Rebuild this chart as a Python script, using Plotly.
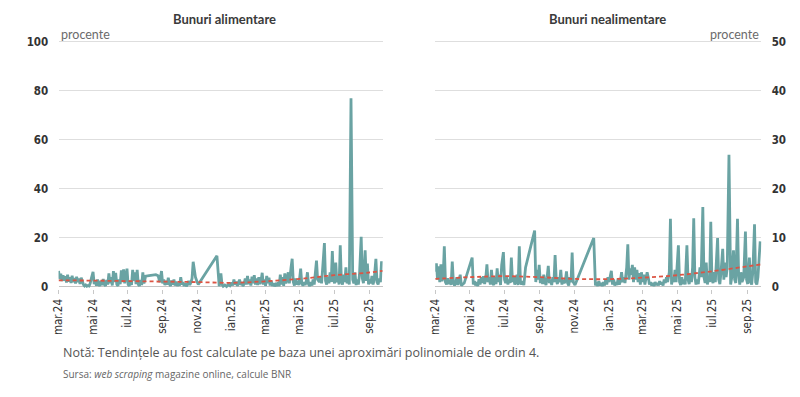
import pandas as pd
import plotly.graph_objects as go

START = pd.Timestamp("2024-03-01")

# ---- Bunuri alimentare (day offset from 1 Mar 2024, percent) ----
alim_days = [0, 2, 4, 6, 8, 10, 12, 14, 16, 18, 20, 22, 24, 26, 28, 30, 32, 34, 36, 38, 40, 42, 44, 46, 48, 50,
             52, 54, 56, 58, 61, 63, 65, 67, 69, 71, 73, 75, 77, 79, 81, 83, 85, 87, 89, 91, 93, 95, 97, 99, 101,
             103, 105, 107, 109, 111, 113, 115, 117, 119, 121, 123, 125, 127, 129, 131, 133, 135, 137, 139, 141,
             143, 145, 147, 149, 151, 154, 160, 166, 172, 176, 179, 182, 184, 186, 188, 190, 192, 194, 196, 198,
             200, 202, 204, 206, 208, 210, 212, 214, 216, 218, 220, 222, 224, 226, 228, 230, 232, 234, 236, 238,
             240, 242, 245, 247, 280, 284, 287, 289, 291, 294, 297, 300, 303, 306, 308, 310, 312, 314, 316, 318,
             320, 322, 324, 326, 328, 330, 332, 334, 336, 338, 340, 342, 344, 346, 348, 350, 352, 354, 356, 358,
             360, 362, 364, 366, 368, 370, 372, 374, 376, 378, 380, 382, 384, 386, 388, 390, 392, 394, 396, 398,
             400, 402, 404, 406, 408, 411, 413, 415, 417, 419, 421, 423, 425, 428, 430, 432, 434, 436, 438, 440,
             442, 444, 446, 448, 450, 452, 454, 456, 458, 461, 463, 465, 467, 470, 472, 474, 476, 478, 480, 482,
             484, 486, 488, 490, 492, 494, 496, 498, 500, 502, 504, 506, 508, 510, 512, 514, 517, 520, 522, 524,
             526, 528, 530, 532, 535, 537, 539, 542, 544, 546, 548, 550, 552, 554, 556, 558, 561, 563, 565, 567,
             569, 571]
alim_vals = [6.5, 3.2, 5.4, 2.4, 4.8, 2.6, 4.4, 1.8, 5.0, 2.2, 4.0, 1.6, 4.6, 2.0, 3.6, 1.4, 4.2, 2.0, 3.4, 1.2,
             3.8, 2.0, 1.0, 0.4, 0.8, 0.3, 0.6, 0.4, 1.5, 3.5, 6.2, 1.2, 2.5, 0.5, 3.0, 1.0, 0.4, 2.5, 0.8, 3.2,
             1.0, 0.4, 2.8, 1.0, 5.5, 1.5, 4.0, 0.6, 6.5, 2.0, 5.8, 1.0, 0.5, 3.0, 1.2, 6.8, 2.0, 7.2, 1.5, 4.5,
             7.5, 1.0, 0.4, 2.5, 0.8, 7.0, 2.5, 6.0, 1.2, 7.0, 1.0, 0.4, 2.8, 0.8, 6.0, 1.5, 4.4, 4.6, 4.8, 5.0,
             4.6, 2.0, 6.5, 1.5, 3.0, 0.8, 2.5, 1.0, 3.8, 1.2, 0.4, 2.6, 1.0, 3.0, 0.6, 2.2, 0.4, 1.5, 0.6, 4.0,
             1.0, 2.0, 0.4, 1.4, 0.3, 1.0, 2.5, 0.8, 1.8, 3.5, 10.3, 7.0, 4.0, 2.0, 1.0, 12.7, 0.3, 5.5, 1.0, 0.3,
             0.8, 0.2, 1.0, 0.5, 1.8, 0.6, 3.0, 1.0, 2.2, 0.4, 1.5, 3.0, 0.8, 2.0, 0.4, 1.2, 3.5, 1.0, 4.5, 1.2,
             3.0, 0.6, 4.2, 1.5, 4.8, 1.0, 3.5, 0.8, 4.0, 1.2, 2.5, 5.8, 1.0, 3.0, 0.5, 4.5, 1.5, 3.8, 0.6, 2.5,
             0.4, 1.5, 0.3, 1.0, 0.4, 2.0, 0.3, 5.0, 1.0, 4.0, 0.5, 5.5, 1.5, 3.0, 6.0, 1.5, 8.0, 11.5, 2.0, 0.6,
             3.5, 1.0, 2.5, 0.8, 7.5, 1.5, 0.5, 2.0, 0.8, 2.5, 6.0, 1.0, 0.4, 2.0, 0.6, 3.0, 1.0, 5.0, 10.8, 3.0,
             2.0, 4.0, 1.5, 8.0, 17.9, 2.5, 1.0, 4.0, 1.5, 6.0, 2.0, 14.7, 3.0, 1.5, 10.0, 2.0, 4.0, 1.0, 17.0,
             2.5, 1.0, 5.0, 2.0, 8.0, 1.5, 3.0, 1.0, 77.0, 3.0, 1.5, 6.0, 0.8, 3.0, 1.0, 5.0, 20.5, 3.5, 1.5,
             15.0, 2.5, 9.5, 1.0, 3.0, 1.5, 4.5, 1.0, 3.0, 11.5, 2.0, 1.0, 3.5, 2.0, 10.5]

# ---- Bunuri nealimentare ----
nealim_days = [0, 2, 4, 6, 8, 10, 12, 14, 16, 18, 20, 22, 24, 26, 28, 30, 32, 34, 36, 38, 40, 42, 44, 46, 48, 51,
               65, 67, 69, 71, 73, 75, 77, 79, 81, 83, 85, 87, 89, 91, 93, 95, 97, 99, 101, 103, 105, 107, 109,
               111, 113, 115, 117, 120, 122, 124, 126, 128, 130, 132, 134, 136, 138, 140, 142, 144, 146, 148, 150,
               152, 154, 156, 159, 175, 177, 179, 181, 183, 185, 187, 189, 191, 193, 195, 197, 199, 201, 203, 205,
               207, 209, 211, 213, 215, 217, 219, 221, 223, 225, 227, 229, 231, 233, 235, 237, 239, 241, 243, 246,
               279, 282, 284, 286, 288, 290, 292, 294, 296, 298, 300, 302, 304, 306, 308, 310, 312, 314, 316, 318,
               320, 322, 324, 326, 328, 330, 332, 334, 337, 339, 341, 343, 345, 347, 349, 351, 353, 355, 357, 359,
               361, 363, 365, 367, 369, 371, 373, 375, 377, 379, 381, 383, 385, 387, 389, 391, 393, 395, 397, 399,
               401, 403, 405, 407, 409, 412, 414, 416, 418, 420, 422, 424, 426, 428, 430, 432, 434, 436, 438, 440,
               443, 445, 447, 449, 451, 453, 455, 457, 459, 461, 463, 466, 468, 471, 473, 475, 477, 479, 481, 483,
               485, 487, 489, 491, 493, 495, 497, 499, 501, 503, 506, 508, 510, 512, 514, 517, 519, 520, 522, 525,
               527, 529, 532, 534, 536, 538, 540, 543, 546, 548, 550, 553, 555, 557, 559, 562, 564, 566, 568, 572]
nealim_vals = [3.1, 4.8, 1.5, 4.2, 1.0, 4.6, 1.2, 2.0, 8.3, 1.0, 0.5, 1.8, 0.6, 1.5, 0.4, 5.2, 1.0, 0.3, 0.8,
               2.0, 0.4, 1.2, 2.5, 0.3, 0.5, 0.8, 6.0, 0.5, 1.2, 0.3, 1.0, 0.2, 1.6, 0.5, 2.0, 0.8, 2.2, 0.6,
               1.8, 4.6, 1.0, 2.0, 0.5, 3.5, 0.8, 0.4, 2.0, 0.6, 3.8, 1.0, 2.5, 0.4, 4.5, 7.1, 1.5, 0.8, 2.0,
               0.5, 1.5, 0.8, 6.0, 1.0, 2.2, 0.5, 1.0, 2.5, 0.4, 8.3, 1.0, 0.5, 1.2, 0.4, 4.0, 11.5, 1.0, 3.5,
               1.5, 4.5, 0.8, 2.0, 0.6, 2.5, 1.0, 0.4, 2.0, 4.3, 0.8, 1.5, 0.4, 2.0, 1.0, 6.5, 1.5, 0.6, 2.0,
               1.0, 3.5, 0.5, 1.5, 0.8, 1.2, 3.2, 0.8, 0.3, 2.0, 1.0, 7.0, 1.0, 0.4, 10.0, 0.3, 1.0, 0.2, 1.2,
               0.3, 0.8, 0.2, 1.0, 0.3, 1.5, 0.5, 2.0, 1.0, 2.5, 3.3, 0.5, 1.5, 0.3, 1.0, 0.4, 1.8, 0.5, 1.2,
               3.0, 1.0, 2.0, 0.8, 4.0, 8.7, 1.5, 3.8, 2.5, 4.5, 1.0, 4.0, 1.5, 3.5, 1.0, 2.8, 0.5, 3.0, 1.0,
               2.5, 0.5, 1.8, 3.0, 2.0, 0.5, 1.0, 0.3, 0.8, 0.2, 1.0, 0.4, 0.8, 0.3, 1.2, 0.5, 1.0, 0.3, 1.5,
               0.8, 2.0, 1.0, 3.0, 13.9, 0.5, 2.0, 1.0, 3.5, 1.0, 4.0, 8.5, 1.0, 0.4, 2.0, 0.6, 1.5, 0.5, 8.5,
               1.5, 0.6, 2.5, 1.0, 4.0, 14.0, 2.0, 0.5, 1.5, 0.6, 4.0, 2.0, 16.3, 2.0, 0.8, 5.0, 0.5, 2.0, 1.0,
               13.3, 1.5, 0.8, 3.0, 1.0, 4.5, 10.0, 1.5, 0.6, 3.0, 7.8, 1.5, 5.0, 2.0, 4.0, 27.0, 3.0, 0.5, 2.0,
               7.5, 1.5, 0.8, 13.9, 2.5, 0.5, 3.0, 1.0, 2.0, 11.3, 1.5, 0.6, 6.0, 1.0, 0.5, 3.0, 12.8, 1.0, 0.5,
               2.0, 9.3]

# ---- Trends (4th-order polynomial) ----
trend_days = [0, 61, 122, 184, 245, 306, 365, 426, 487, 549, 573]
alim_trend = [2.7, 2.6, 2.4, 2.2, 2.0, 1.7, 2.3, 3.3, 4.8, 5.9, 6.6]
nealim_trend = [1.65, 2.0, 2.2, 2.0, 1.65, 1.6, 1.9, 2.4, 3.2, 4.2, 4.6]

tick_dates = ["2024-03-01", "2024-05-01", "2024-07-01", "2024-09-01", "2024-11-01",
              "2025-01-01", "2025-03-01", "2025-05-01", "2025-07-01", "2025-09-01"]
tick_text = ["mar.24", "mai 24", "iul.24", "sep.24", "nov.24",
             "ian.25", "mar.25", "mai 25", "iul.25", "sep.25"]

def to_dates(days):
    return START + pd.to_timedelta(days, unit="D")

TEAL = "#6aa3a3"
RED = "#dc5443"
W, H = 800, 397

def py(px):
    return 1 - px / H

fig = go.Figure()
fig.add_trace(go.Scatter(x=to_dates(alim_days), y=alim_vals, mode="lines",
                         line=dict(color=TEAL, width=2.8), xaxis="x", yaxis="y", hoverinfo="skip"))
fig.add_trace(go.Scatter(x=to_dates(trend_days), y=alim_trend, mode="lines",
                         line=dict(color=RED, width=1.8, dash="4px,3px", shape="spline"),
                         xaxis="x", yaxis="y", hoverinfo="skip"))
fig.add_trace(go.Scatter(x=to_dates(nealim_days), y=nealim_vals, mode="lines",
                         line=dict(color=TEAL, width=2.8), xaxis="x2", yaxis="y2", hoverinfo="skip"))
fig.add_trace(go.Scatter(x=to_dates(trend_days), y=nealim_trend, mode="lines",
                         line=dict(color=RED, width=1.8, dash="4px,3px", shape="spline"),
                         xaxis="x2", yaxis="y2", hoverinfo="skip"))

NARROW = "Liberation Sans Narrow, DejaVu Sans Condensed, sans-serif"
TICKFONT = dict(family=NARROW, size=11.5, color="#333333")
ydom = [py(291.5), py(35.7)]

xcommon = dict(type="date", tickmode="array", tickvals=tick_dates, ticktext=tick_text, tickangle=-90,
               ticks="outside", ticklen=4, tickcolor="#c8c8c8", showgrid=False, showline=False,
               zeroline=False, tickfont=TICKFONT)
ycommon = dict(tickmode="array", showgrid=True, gridcolor="#dedede", gridwidth=1,
               zeroline=True, zerolinecolor="#c4c4c4", zerolinewidth=1.2, showline=False,
               ticks="outside", ticklen=7, tickcolor="rgba(0,0,0,0)",
               tickfont=dict(family=NARROW, size=11.5, color="#333333", weight=600))

fig.update_layout(
    width=W, height=H, margin=dict(l=0, r=0, t=0, b=0),
    paper_bgcolor="white", plot_bgcolor="white", showlegend=False,
    xaxis=dict(domain=[52 / W, 379 / W], anchor="y",
               range=["2024-03-01", "2025-09-25"], **xcommon),
    yaxis=dict(domain=ydom, anchor="x", range=[-1, 100.5],
               tickvals=[0, 20, 40, 60, 80, 100], **ycommon),
    xaxis2=dict(domain=[432 / W, 761 / W], anchor="y2",
                range=["2024-03-01", "2025-09-26"], **xcommon),
    yaxis2=dict(domain=ydom, anchor="x2", side="right", range=[-0.5, 50.25],
                tickvals=[0, 10, 20, 30, 40, 50], **ycommon),
)

TITLEFONT = dict(family="Lato, Open Sans, sans-serif", size=13, color="#3a3a3a", weight=700)
GRAY = dict(family="Lato, Open Sans, sans-serif", size=12.5, color="#6b6b6b")
ann = [
    dict(text="Bunuri alimentare", x=219 / W, y=py(13), xanchor="center", yanchor="middle", font=TITLEFONT),
    dict(text="Bunuri nealimentare", x=606 / W, y=py(13), xanchor="center", yanchor="middle", font=TITLEFONT),
    dict(text="procente", x=52 / W, y=py(29), xanchor="left", yanchor="middle", font=GRAY),
    dict(text="procente", x=761 / W, y=py(29), xanchor="right", yanchor="middle", font=GRAY),
    dict(text="Notă: Tendințele au fost calculate pe baza unei aproximări polinomiale de ordin 4.",
         x=54 / W, y=py(356), xanchor="left", yanchor="middle",
         font=dict(family="Open Sans, sans-serif", size=12.5, color="#555555")),
    dict(text="Sursa: <i>web scraping</i> magazine online, calcule BNR",
         x=54 / W, y=py(379), xanchor="left", yanchor="middle",
         font=dict(family="Open Sans, sans-serif", size=10, color="#666666")),
]
for a in ann:
    fig.add_annotation(xref="paper", yref="paper", showarrow=False, **a)

fig.write_html("out.html", config={"displayModeBar": False},
               post_script="document.body.style.margin='0';document.body.style.padding='0';")
